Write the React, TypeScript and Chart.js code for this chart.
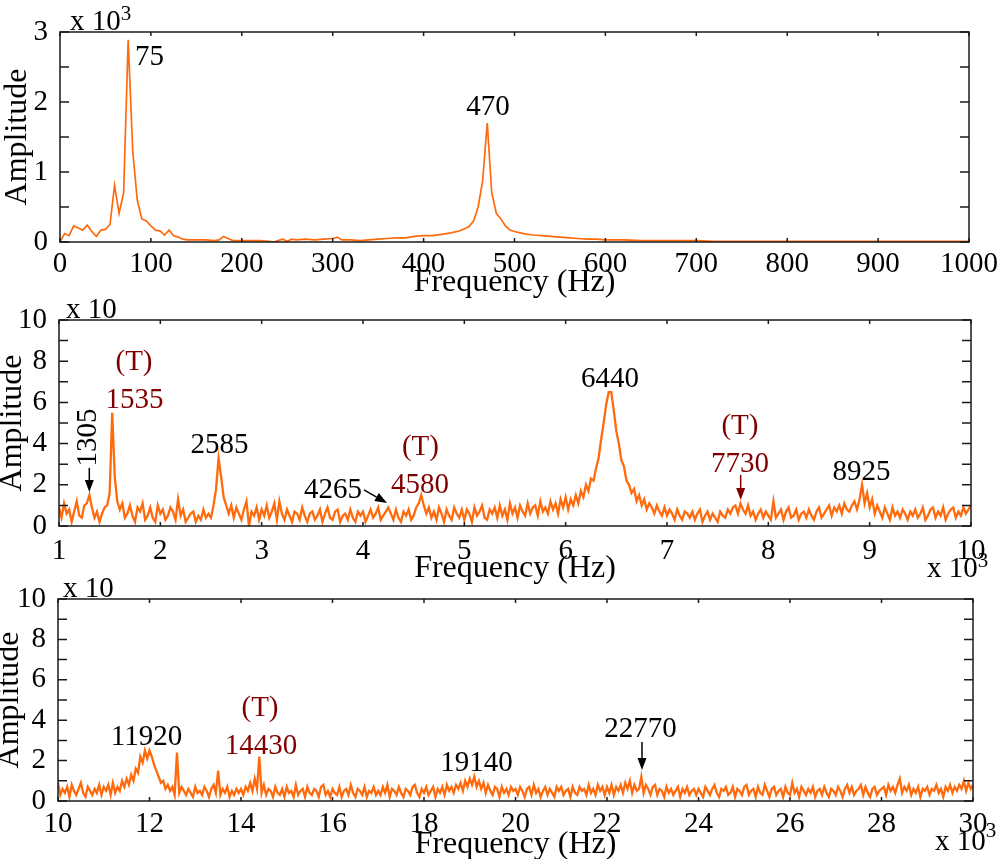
import React, { useRef, useEffect } from 'react';
import { Chart, registerables } from 'chart.js';

Chart.register(...registerables);

const FONT = "'Liberation Serif', 'Times New Roman', Times, serif";
const ORANGE = '#ff6a0c';
const DARK_RED = '#800000';
const FRAME = '#1a1a1a';
const TICK_SIZE = 29;
const TITLE_SIZE = 32;
const SUP_SIZE = 21;
const PAGE_W = 1000;
const PAGE_H = 859;

// ---- top panel: 0 - 1000 Hz, amplitude in units of 10^3
const LOW_FREQ = [
  0, 5, 10, 15, 20, 25, 30, 35, 40, 45,
  50, 55, 60, 65, 70, 75, 80, 85, 90, 95,
  100, 105, 110, 115, 120, 125, 130, 135, 140, 150,
  160, 170, 175, 180, 185, 190, 200, 210, 220, 230,
  235, 240, 245, 250, 255, 260, 270, 280, 290, 300,
  305, 310, 320, 330, 340, 350, 360, 370, 380, 390,
  400, 410, 420, 430, 440, 445, 450, 455, 460, 465,
  470, 475, 480, 485, 490, 495, 500, 510, 520, 530,
  540, 550, 560, 570, 580, 590, 600, 620, 640, 660,
  680, 700, 720, 750, 800, 850, 900, 950, 1000,
];
const LOW_AMP = [
  0, 0.12, 0.09, 0.23, 0.2, 0.17, 0.24, 0.15, 0.08, 0.17,
  0.18, 0.25, 0.81, 0.41, 0.7, 2.89, 1.3, 0.6, 0.33, 0.3,
  0.23, 0.17, 0.16, 0.1, 0.17, 0.09, 0.07, 0.04, 0.03, 0.03,
  0.03, 0.02, 0.03, 0.08, 0.05, 0.02, 0.02, 0.02, 0.02, 0.01,
  0.0, 0.02, 0.04, 0.01, 0.04, 0.03, 0.04, 0.03, 0.04, 0.05,
  0.07, 0.03, 0.03, 0.02, 0.03, 0.04, 0.05, 0.06, 0.06, 0.08,
  0.09, 0.09, 0.11, 0.13, 0.16, 0.19, 0.22, 0.3, 0.5, 0.88,
  1.7, 0.7, 0.41, 0.33, 0.23, 0.17, 0.15, 0.12, 0.1, 0.09,
  0.08, 0.07, 0.06, 0.05, 0.04, 0.04, 0.03, 0.03, 0.02, 0.02,
  0.02, 0.02, 0.01, 0.01, 0.01, 0.01, 0.01, 0.01, 0.01,
];

// ---- middle panel: 1000 - 10000 Hz sampled every 25 Hz, amplitude in units of 10
const MID_START_HZ = 1000;
const MID_STEP_HZ = 25;
const MID_AMP = [
  0.9, 0.4, 1.1, 0.6, 0.8, 0.2, 0.7, 1.2, 0.5, 0.4, 1.0, 1.1, 1.5, 0.9, 0.4, 0.7, 0.2, 0.6, 0.9, 1.0, // 1000
  1.6, 5.5, 2.4, 1.2, 0.8, 1.1, 0.4, 0.6, 1.0, 0.5, 0.2, 0.9, 0.7, 1.1, 0.3, 0.5, 0.9, 0.4, 0.2, 1.0, // 1500
  0.6, 0.8, 0.3, 0.5, 0.9, 0.7, 0.3, 1.3, 0.5, 0.8, 0.2, 0.4, 0.6, 0.7, 0.2, 0.5, 0.3, 0.8, 0.4, 0.6, // 2000
  0.4, 1.0, 1.8, 3.3, 2.4, 1.4, 1.0, 0.6, 1.0, 0.4, 0.9, 0.6, 0.3, 0.8, 1.2, 0.0, 0.7, 0.5, 0.9, 0.3, // 2500
  0.8, 0.5, 1.0, 0.4, 0.7, 1.1, 0.3, 1.2, 0.6, 0.3, 0.8, 0.5, 0.2, 0.7, 0.6, 0.3, 0.9, 0.5, 0.2, 0.6, // 3000
  0.7, 0.3, 0.5, 0.8, 0.2, 0.6, 0.9, 0.4, 0.3, 0.7, 0.8, 0.2, 0.5, 0.6, 0.3, 0.8, 0.4, 0.2, 0.7, 0.5, // 3500
  0.7, 0.2, 0.5, 0.8, 0.4, 0.6, 0.9, 0.3, 0.5, 0.7, 0.9, 0.6, 0.3, 0.8, 0.4, 0.2, 0.7, 0.5, 0.8, 0.3, // 4000
  0.5, 0.9, 1.1, 1.5, 1.0, 0.6, 0.9, 0.4, 0.7, 0.3, 0.9, 0.6, 0.2, 0.8, 0.5, 0.3, 0.9, 0.6, 0.4, 0.8, // 4500
  0.3, 0.8, 0.6, 0.2, 0.9, 0.5, 0.7, 1.0, 0.4, 0.3, 0.8, 0.6, 0.9, 0.4, 1.0, 0.5, 0.8, 0.3, 1.1, 0.6, // 5000
  0.9, 0.4, 1.0, 0.7, 0.5, 1.1, 0.6, 0.9, 1.0, 0.5, 1.2, 0.7, 0.9, 0.6, 1.2, 0.8, 1.1, 0.6, 1.3, 0.9, // 5500
  1.4, 0.8, 1.3, 1.0, 1.5, 1.1, 1.7, 1.4, 2.0, 1.7, 2.3, 2.2, 2.8, 3.3, 4.2, 5.0, 5.9, 6.5, 6.5, 5.6, // 6000
  4.6, 4.0, 3.2, 2.9, 2.2, 2.0, 1.6, 1.8, 1.2, 1.5, 1.0, 1.3, 0.8, 1.1, 0.9, 0.6, 1.0, 0.7, 0.5, 0.9, // 6500
  0.5, 0.8, 0.6, 0.3, 0.8, 0.5, 0.3, 0.7, 0.6, 0.4, 0.7, 0.3, 0.6, 0.8, 0.2, 0.5, 0.7, 0.3, 0.6, 0.4, // 7000
  0.2, 0.7, 0.5, 0.4, 0.8, 0.6, 0.9, 1.0, 0.6, 1.1, 0.8, 0.6, 1.0, 0.5, 0.7, 0.3, 0.6, 0.8, 0.4, 0.7, // 7500
  0.5, 0.3, 1.2, 0.4, 0.6, 0.8, 0.3, 0.7, 0.9, 0.4, 0.5, 0.8, 0.3, 0.6, 0.7, 0.4, 0.8, 0.5, 0.3, 0.7, // 8000
  0.9, 0.4, 0.6, 0.8, 1.0, 0.5, 0.9, 0.7, 1.0, 0.6, 1.1, 0.8, 0.7, 1.0, 1.2, 0.8, 1.3, 2.0, 1.1, 1.6, // 8500
  0.9, 1.3, 0.6, 1.0, 0.7, 0.4, 0.9, 0.6, 0.3, 0.9, 0.5, 0.7, 0.4, 0.8, 0.6, 0.3, 0.7, 0.5, 0.8, 0.4, // 9000
  0.6, 0.9, 0.3, 0.5, 0.8, 0.9, 0.4, 0.7, 0.5, 0.9, 0.3, 0.6, 0.8, 0.9, 0.4, 0.7, 0.5, 0.9, 0.6, 0.8, // 9500
  1.0, // 10000
];

// ---- bottom panel: 10000 - 30000 Hz sampled every 50 Hz, amplitude in units of 10
const HIGH_START_HZ = 10000;
const HIGH_STEP_HZ = 50;
const HIGH_AMP = [
  0.9, 0.3, 0.6, 0.4, 0.7, 0.2, 0.8, 0.5, 0.3, 0.6, 0.9, 0.4, 0.2, 0.7, 0.5, 0.3, 0.6, 0.4, 0.8, 0.3, // 10000
  0.7, 0.5, 0.8, 0.3, 0.9, 0.4, 0.7, 0.5, 1.0, 0.7, 1.1, 0.8, 1.3, 1.0, 1.6, 1.4, 2.2, 1.9, 2.5, 2.1, // 11000
  2.5, 2.2, 1.8, 1.5, 1.2, 0.9, 1.0, 0.6, 0.8, 0.5, 0.7, 0.3, 2.4, 0.4, 0.7, 0.5, 0.3, 0.6, 0.4, 0.2, // 12000
  0.7, 0.4, 0.5, 0.3, 0.7, 0.5, 0.2, 0.6, 0.8, 0.4, 1.5, 0.3, 0.6, 0.4, 0.7, 0.2, 0.5, 0.3, 0.6, 0.4, // 13000
  0.6, 0.3, 0.7, 0.5, 0.9, 0.5, 1.1, 0.6, 2.2, 0.4, 0.8, 0.3, 0.6, 0.5, 0.2, 0.7, 0.4, 0.3, 0.6, 0.2, // 14000
  0.7, 0.4, 0.5, 0.2, 0.8, 0.3, 0.5, 0.6, 0.2, 0.7, 0.4, 0.3, 0.6, 0.5, 0.2, 0.7, 0.8, 0.3, 0.5, 0.2, // 15000
  0.6, 0.4, 0.3, 0.7, 0.2, 0.5, 0.6, 0.3, 0.8, 0.4, 0.2, 0.6, 0.5, 0.3, 0.7, 0.2, 0.5, 0.4, 0.7, 0.3, // 16000
  0.5, 0.3, 0.7, 0.4, 0.8, 0.2, 0.6, 0.5, 0.3, 0.7, 0.4, 0.2, 0.6, 0.5, 0.3, 0.7, 0.8, 0.4, 0.2, 0.6, // 17000
  0.4, 0.7, 0.3, 0.5, 0.7, 0.2, 0.6, 0.4, 0.7, 0.3, 0.8, 0.5, 0.7, 0.4, 0.8, 0.6, 0.9, 0.5, 1.0, 0.7, // 18000
  1.1, 0.8, 1.2, 0.7, 1.0, 0.6, 0.9, 0.4, 0.8, 0.5, 0.3, 0.7, 0.6, 0.2, 0.7, 0.4, 0.6, 0.3, 0.7, 0.5, // 19000
  0.6, 0.3, 0.7, 0.5, 0.2, 0.6, 0.7, 0.3, 0.8, 0.4, 0.6, 0.2, 0.5, 0.7, 0.3, 0.6, 0.4, 0.2, 0.7, 0.5, // 20000
  0.7, 0.3, 0.5, 0.6, 0.2, 0.7, 0.4, 0.3, 0.7, 0.5, 0.6, 0.3, 0.8, 0.4, 0.6, 0.3, 0.8, 0.5, 0.7, 0.3, // 21000
  0.7, 0.4, 0.8, 0.3, 0.7, 0.5, 0.8, 0.4, 0.9, 0.6, 1.0, 0.4, 0.8, 0.5, 0.6, 1.2, 0.4, 0.8, 0.6, 0.3, // 22000
  0.7, 0.8, 0.3, 0.6, 0.5, 0.2, 0.7, 0.4, 0.6, 0.3, 0.5, 0.7, 0.2, 0.6, 0.4, 0.7, 0.3, 0.5, 0.6, 0.3, // 23000
  0.6, 0.4, 0.2, 0.7, 0.5, 0.3, 0.6, 0.8, 0.4, 0.2, 0.6, 0.5, 0.7, 0.3, 0.4, 0.7, 0.2, 0.6, 0.5, 0.3, // 24000
  0.7, 0.8, 0.3, 0.5, 0.6, 0.2, 0.7, 0.4, 0.3, 0.8, 0.5, 0.2, 0.6, 0.7, 0.3, 0.5, 0.6, 0.2, 0.7, 0.4, // 25000
  0.3, 0.9, 0.4, 0.6, 0.2, 0.7, 0.5, 0.3, 0.6, 0.4, 0.7, 0.2, 0.5, 0.6, 0.3, 0.7, 0.4, 0.2, 0.6, 0.5, // 26000
  0.3, 0.7, 0.5, 0.2, 0.6, 0.8, 0.4, 0.7, 0.3, 0.5, 0.6, 0.8, 0.3, 0.7, 0.4, 0.2, 0.6, 0.7, 0.3, 0.5, // 27000
  0.6, 0.7, 0.3, 0.8, 0.5, 0.7, 0.4, 0.8, 1.1, 0.4, 0.7, 0.5, 0.8, 0.3, 0.6, 0.4, 0.7, 0.2, 0.6, 0.5, // 28000
  0.7, 0.3, 0.6, 0.5, 0.8, 0.4, 0.6, 0.2, 0.7, 0.5, 0.8, 0.4, 0.7, 0.5, 0.8, 0.6, 1.0, 0.5, 0.9, 0.6, // 29000
  0.8, // 30000
];

interface Note {
  text: string;
  x: number;
  y: number;
  color?: string;
  align?: CanvasTextAlign;
  rotate?: boolean;
}

interface Arrow {
  x1: number;
  y1: number;
  x2: number;
  y2: number;
  color?: string;
}

const LOW_NOTES: Note[] = [
  { text: '75', x: 82.5, y: 2.53, align: 'left' },
  { text: '470', x: 470.8, y: 1.81 },
];

const MID_NOTES: Note[] = [
  { text: '(T)', x: 1740, y: 7.57, color: DARK_RED },
  { text: '1535', x: 1745, y: 5.73, color: DARK_RED },
  { text: '1305', x: 1291, y: 4.3, rotate: true },
  { text: '2585', x: 2584, y: 3.54 },
  { text: '4265', x: 3990, y: 1.36, align: 'right' },
  { text: '(T)', x: 4567, y: 3.45, color: DARK_RED },
  { text: '4580', x: 4563, y: 1.6, color: DARK_RED },
  { text: '6440', x: 6437, y: 6.75 },
  { text: '(T)', x: 7720, y: 4.47, color: DARK_RED },
  { text: '7730', x: 7720, y: 2.62, color: DARK_RED },
  { text: '8925', x: 8919, y: 2.23 },
];
const MID_ARROWS: Arrow[] = [
  { x1: 1299, y1: 2.82, x2: 1299, y2: 1.65 },
  { x1: 4010, y1: 1.75, x2: 4237, y2: 1.12 },
  { x1: 7727, y1: 2.48, x2: 7727, y2: 1.26, color: DARK_RED },
];

const HIGH_NOTES: Note[] = [
  { text: '11920', x: 11934, y: 2.77 },
  { text: '(T)', x: 14415, y: 4.21, color: DARK_RED },
  { text: '14430', x: 14437, y: 2.33, color: DARK_RED },
  { text: '19140', x: 19148, y: 1.49 },
  { text: '22770', x: 22732, y: 3.17 },
];
const HIGH_ARROWS: Arrow[] = [{ x1: 22765, y1: 2.92, x2: 22765, y2: 1.53 }];

interface PanelSpec {
  points: { x: number; y: number }[];
  area: { left: number; right: number; top: number; bottom: number };
  xMin: number;
  xMax: number;
  xStep: number;
  xDiv: number;
  yMax: number;
  yStep: number;
  yLabelEvery: number;
  lineWidth: number;
  xTickPad: number;
  titleGap: number;
  yTitlePad: number;
  yUnit: { dx: number; sup?: string };
  xUnit?: { dx: number; dy: number; supDy: number };
  notes: Note[];
  arrows: Arrow[];
}

const PANELS: PanelSpec[] = [
  {
    points: LOW_FREQ.map((f, i) => ({ x: f, y: LOW_AMP[i] })),
    area: { left: 60, right: 969, top: 32, bottom: 242 },
    xMin: 0, xMax: 1000, xStep: 100, xDiv: 1,
    yMax: 3, yStep: 0.5, yLabelEvery: 1,
    lineWidth: 1.7,
    xTickPad: 0, titleGap: 41, yTitlePad: 2,
    yUnit: { dx: 10, sup: '3' },
    notes: LOW_NOTES, arrows: [],
  },
  {
    points: MID_AMP.map((v, i) => ({ x: MID_START_HZ + i * MID_STEP_HZ, y: v })),
    area: { left: 59, right: 971, top: 320, bottom: 526 },
    xMin: 1000, xMax: 10000, xStep: 1000, xDiv: 1000,
    yMax: 10, yStep: 1, yLabelEvery: 2,
    lineWidth: 2.3,
    xTickPad: 3, titleGap: 43, yTitlePad: -3,
    yUnit: { dx: 7 },
    xUnit: { dx: -44, dy: 51, supDy: 41 },
    notes: MID_NOTES, arrows: MID_ARROWS,
  },
  {
    points: HIGH_AMP.map((v, i) => ({ x: HIGH_START_HZ + i * HIGH_STEP_HZ, y: v })),
    area: { left: 58, right: 973, top: 599, bottom: 801 },
    xMin: 10000, xMax: 30000, xStep: 2000, xDiv: 1000,
    yMax: 10, yStep: 1, yLabelEvery: 2,
    lineWidth: 2.3,
    xTickPad: 1, titleGap: 44, yTitlePad: -6,
    yUnit: { dx: 5 },
    xUnit: { dx: -38, dy: 49, supDy: 36 },
    notes: HIGH_NOTES, arrows: HIGH_ARROWS,
  },
];

// frame with inward tick marks on all four sides
const framePlugin = {
  id: 'frame',
  afterDatasetsDraw(chart: Chart) {
    const { ctx, chartArea: a } = chart;
    const xs = chart.scales.x;
    const ys = chart.scales.y;
    ctx.save();
    ctx.strokeStyle = FRAME;
    ctx.lineWidth = 1.5;
    ctx.beginPath();
    ys.ticks.forEach((t) => {
      const py = ys.getPixelForValue(t.value);
      ctx.moveTo(a.left, py);
      ctx.lineTo(a.left + 9, py);
      ctx.moveTo(a.right, py);
      ctx.lineTo(a.right - 9, py);
    });
    xs.ticks.forEach((t) => {
      const px = xs.getPixelForValue(t.value);
      ctx.moveTo(px, a.top);
      ctx.lineTo(px, a.top + 4);
      ctx.moveTo(px, a.bottom);
      ctx.lineTo(px, a.bottom - 4);
    });
    ctx.stroke();
    ctx.strokeRect(a.left, a.top, a.right - a.left, a.bottom - a.top);
    ctx.restore();
  },
};

function makeNotesPlugin(spec: PanelSpec) {
  return {
    id: 'notes',
    afterDraw(chart: Chart) {
      const { ctx, chartArea: a } = chart;
      const xs = chart.scales.x;
      const ys = chart.scales.y;
      ctx.save();
      ctx.font = `${TICK_SIZE}px ${FONT}`;

      spec.notes.forEach((n) => {
        ctx.save();
        ctx.fillStyle = n.color ?? '#000';
        ctx.textAlign = n.align ?? 'center';
        ctx.textBaseline = n.rotate ? 'middle' : 'alphabetic';
        ctx.translate(xs.getPixelForValue(n.x), ys.getPixelForValue(n.y));
        if (n.rotate) ctx.rotate(-Math.PI / 2);
        ctx.fillText(n.text, 0, 0);
        ctx.restore();
      });

      spec.arrows.forEach((ar) => {
        const x1 = xs.getPixelForValue(ar.x1);
        const y1 = ys.getPixelForValue(ar.y1);
        const x2 = xs.getPixelForValue(ar.x2);
        const y2 = ys.getPixelForValue(ar.y2);
        const ang = Math.atan2(y2 - y1, x2 - x1);
        const head = 12;
        const half = 4.5;
        const bx = x2 - head * Math.cos(ang);
        const by = y2 - head * Math.sin(ang);
        const color = ar.color ?? '#000';
        ctx.strokeStyle = color;
        ctx.fillStyle = color;
        ctx.lineWidth = 1.5;
        ctx.beginPath();
        ctx.moveTo(x1, y1);
        ctx.lineTo(bx, by);
        ctx.stroke();
        ctx.beginPath();
        ctx.moveTo(x2, y2);
        ctx.lineTo(bx + half * Math.sin(ang), by - half * Math.cos(ang));
        ctx.lineTo(bx - half * Math.sin(ang), by + half * Math.cos(ang));
        ctx.closePath();
        ctx.fill();
      });

      // "x 10" multiplier labels
      ctx.fillStyle = '#000';
      ctx.textAlign = 'left';
      ctx.textBaseline = 'alphabetic';
      const ux = a.left + spec.yUnit.dx;
      ctx.fillText('x 10', ux, a.top - 2);
      if (spec.yUnit.sup) {
        const w = ctx.measureText('x 10').width;
        ctx.font = `${SUP_SIZE}px ${FONT}`;
        ctx.fillText(spec.yUnit.sup, ux + w, a.top - 12);
        ctx.font = `${TICK_SIZE}px ${FONT}`;
      }
      if (spec.xUnit) {
        const bx = a.right + spec.xUnit.dx;
        ctx.fillText('x 10', bx, a.bottom + spec.xUnit.dy);
        const w = ctx.measureText('x 10').width;
        ctx.font = `${SUP_SIZE}px ${FONT}`;
        ctx.fillText('3', bx + w, a.bottom + spec.xUnit.supDy);
      }
      ctx.restore();
    },
  };
}

const Panel: React.FC<{ spec: PanelSpec }> = ({ spec }) => {
  const canvasRef = useRef<HTMLCanvasElement>(null);

  useEffect(() => {
    if (!canvasRef.current) return;
    const a = spec.area;
    const xAxisHeight = spec.titleGap + TITLE_SIZE / 2;
    const tickFont = { family: FONT, size: TICK_SIZE, lineHeight: 1 };
    const titleFont = { family: FONT, size: TITLE_SIZE, lineHeight: 1 };

    const chart = new Chart(canvasRef.current, {
      type: 'line',
      data: {
        datasets: [
          {
            data: spec.points,
            borderColor: ORANGE,
            borderWidth: spec.lineWidth,
            borderJoinStyle: 'miter',
            pointRadius: 0,
            tension: 0,
            fill: false,
          },
        ],
      },
      options: {
        animation: false,
        responsive: false,
        devicePixelRatio: 1,
        events: [],
        layout: {
          padding: {
            left: 0,
            top: a.top,
            right: PAGE_W - a.right,
            bottom: PAGE_H - a.bottom - xAxisHeight,
          },
        },
        plugins: {
          legend: { display: false },
          tooltip: { enabled: false },
        },
        scales: {
          x: {
            type: 'linear',
            min: spec.xMin,
            max: spec.xMax,
            grid: { display: false },
            border: { display: false },
            ticks: {
              stepSize: spec.xStep,
              autoSkip: false,
              maxRotation: 0,
              padding: spec.xTickPad,
              color: '#000',
              font: tickFont,
              callback: (v) => String(Number(v) / spec.xDiv),
            },
            title: {
              display: true,
              text: 'Frequency (Hz)',
              color: '#000',
              font: titleFont,
              padding: 0,
            },
            afterFit: (s) => {
              s.height = xAxisHeight;
            },
          },
          y: {
            type: 'linear',
            min: 0,
            max: spec.yMax,
            grid: { display: false },
            border: { display: false },
            ticks: {
              stepSize: spec.yStep,
              autoSkip: false,
              padding: 4,
              color: '#000',
              font: tickFont,
              callback: (v) => (Number(v) % spec.yLabelEvery === 0 ? String(v) : ''),
            },
            title: {
              display: true,
              text: 'Amplitude',
              color: '#000',
              font: titleFont,
              padding: { top: spec.yTitlePad, bottom: 0 },
            },
            afterFit: (s) => {
              s.width = a.left;
            },
          },
        },
      },
      plugins: [framePlugin, makeNotesPlugin(spec)],
    });

    return () => {
      chart.destroy();
    };
  }, [spec]);

  return (
    <canvas
      ref={canvasRef}
      width={PAGE_W}
      height={PAGE_H}
      style={{ position: 'absolute', left: 0, top: 0, width: PAGE_W, height: PAGE_H }}
    />
  );
};

const App: React.FC = () => {
  return (
    <div
      style={{
        position: 'absolute',
        left: 0,
        top: 0,
        width: PAGE_W,
        height: PAGE_H,
        background: '#fff',
      }}
    >
      {PANELS.map((spec, i) => (
        <Panel key={i} spec={spec} />
      ))}
    </div>
  );
};

export default App;
